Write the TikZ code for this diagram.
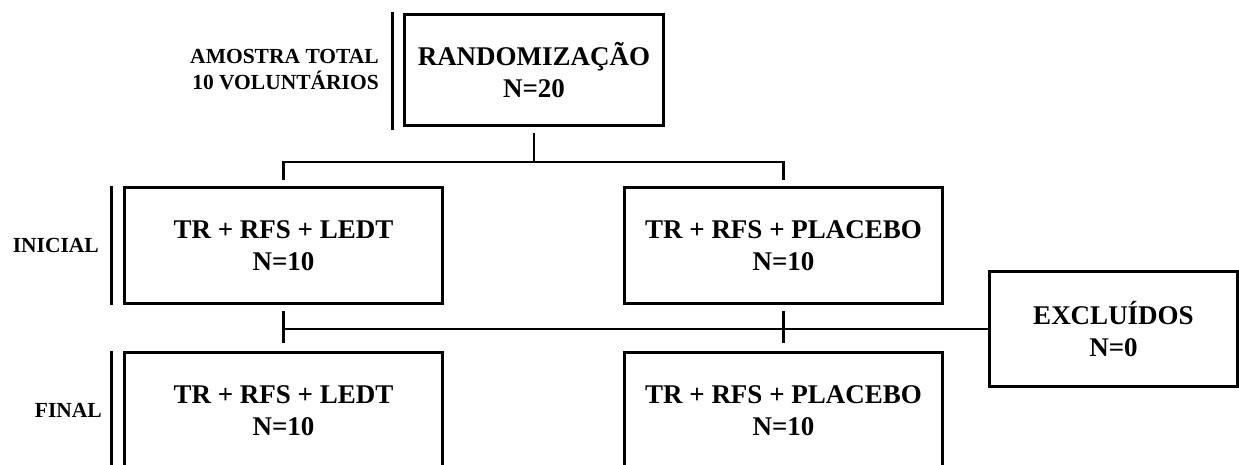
\documentclass[tikz,border=0pt]{standalone}
\usepackage{fontspec}
\setmainfont{Liberation Serif}
\usetikzlibrary{positioning,calc}
\tikzset{
  box/.style={draw=black, line width=3pt, align=center, inner sep=0pt, minimum width=318pt, minimum height=116pt, font=\fontsize{27}{32}\selectfont\bfseries},
  topbox/.style={box, minimum width=259pt, minimum height=111pt},
  exclbox/.style={box, minimum width=248pt, minimum height=115pt},
  sidetext/.style={align=right, inner sep=0pt, anchor=east, font=\fontsize{21.5}{26}\selectfont\bfseries},
  sidebar/.style={line width=3pt},
  link/.style={line width=2.5pt}
}

\begin{document}
\begin{tikzpicture}[x=1pt, y=-1pt, node distance=46pt and 179pt]
\useasboundingbox (0,0) rectangle (1239,465);
\clip (0,0) rectangle (1239,465);
\node[topbox] (rand) at (534,70) {RANDOMIZAÇÃO\\N=20};
\node[box] (iniled) at (283.5,245.5) {TR + RFS + LEDT\\N=10};
\node[box, right=of iniled] (inipla) {TR + RFS + PLACEBO\\N=10};
\node[box, below=of iniled] (finled) {TR + RFS + LEDT\\N=10};
\node[box, below=of inipla] (finpla) {TR + RFS + PLACEBO\\N=10};
\node[exclbox] (excl) at (1113.5,329) {EXCLUÍDOS\\N=0};
\node[sidetext] (amostra) at ([xshift=-24pt]rand.west) {AMOSTRA TOTAL\\10 VOLUNTÁRIOS};
\node[sidetext] (inicial) at ([xshift=-24pt]iniled.west) {INICIAL};
\node[sidetext] (final) at ([xshift=-21pt]finled.west) {FINAL};
\draw[sidebar] ([xshift=-11pt,yshift=1pt]rand.north west) -- ([xshift=-11pt,yshift=-3pt]rand.south west);
\draw[sidebar] ([xshift=-12pt]iniled.north west) -- ([xshift=-12pt]iniled.south west);
\draw[sidebar] ([xshift=-12pt]finled.north west) -- ([xshift=-12pt]finled.south west);
\draw[link, shorten <=6pt] (rand.south) -- ++(0,35) coordinate (split);
\draw[link, shorten <=6pt, shorten >=6pt] (iniled.north) |- (split) -| (inipla.north);
\draw[link, shorten <=6pt, shorten >=8pt] (iniled) -- (finled);
\draw[link, shorten <=6pt, shorten >=8pt] (inipla) -- (finpla);
\draw[link] (iniled.south |- excl.west) -- (excl.west);
\end{tikzpicture}
\end{document}
